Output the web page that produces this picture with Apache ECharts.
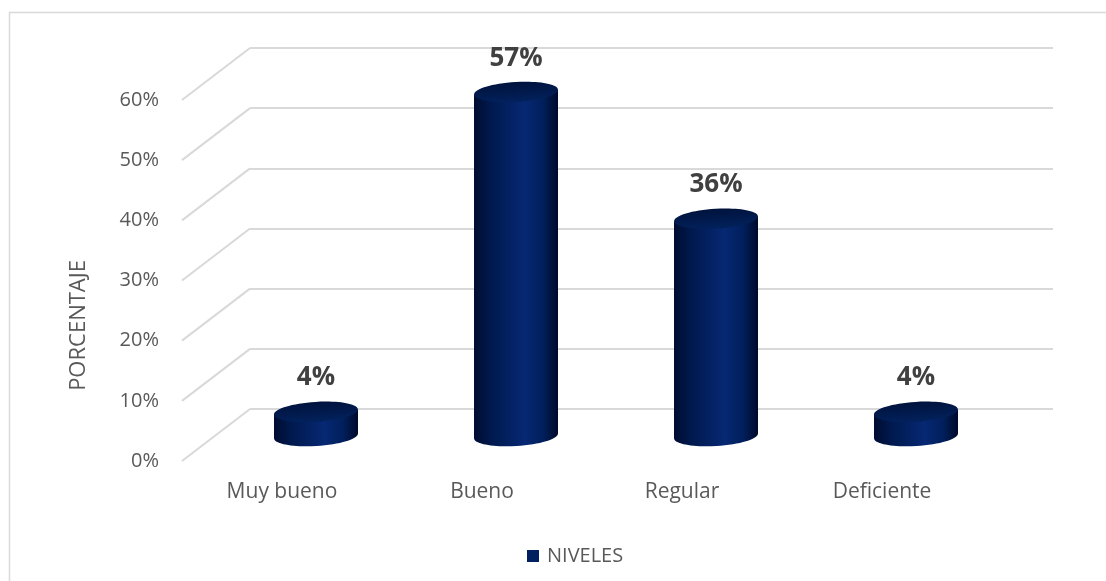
<!DOCTYPE html>
<html>
<head>
<meta charset="utf-8">
<script src="https://cdn.jsdelivr.net/npm/echarts@6/dist/echarts.min.js"></script>
<style>html,body{margin:0;padding:0;background:#fff;}#c{width:1106px;height:581px;}</style>
</head>
<body>
<div id="c"></div>
<script>
const categories = ['Muy bueno', 'Bueno', 'Regular', 'Deficiente'];
const values = [4, 57, 36, 4];
const yTicks = [0, 10, 20, 30, 40, 50, 60];
const seriesName = 'NIVELES';
const axisTitle = 'PORCENTAJE';

const BACK = {left: 250, top: 48, width: 803, height: 361};
const FRONT = {left: 182, top: 100, width: 800, height: 361};
const MID = {left: 216, top: 74, width: 800, height: 362};
const FONT = '"Open Sans", "Noto Sans", sans-serif';
const GRID_COLOR = '#d9d9d9';

const chart = echarts.init(document.getElementById('c'), null, {renderer: 'canvas'});

function bodyGradient() {
  return new echarts.graphic.LinearGradient(0, 0, 1, 0, [
    {offset: 0, color: '#000c30'},
    {offset: 0.18, color: '#00184b'},
    {offset: 0.6, color: '#062873'},
    {offset: 0.82, color: '#011f5c'},
    {offset: 1, color: '#000a2a'}
  ]);
}
function topGradient() {
  return new echarts.graphic.LinearGradient(0, 0, 0, 1, [
    {offset: 0, color: '#00133d'},
    {offset: 1, color: '#02215c'}
  ]);
}

const option = {
  backgroundColor: '#ffffff',
  animation: false,
  graphic: [{
    type: 'rect', silent: true, z: -10,
    shape: {x: 9.5, y: 12.5, width: 1200, height: 700},
    style: {fill: 'none', stroke: GRID_COLOR, lineWidth: 1.5}
  }],
  legend: {
    data: [seriesName],
    left: 522, top: 541,
    icon: 'rect', itemWidth: 12, itemHeight: 12,
    textStyle: {fontFamily: FONT, fontSize: 20, color: '#595959', padding: [0, 0, 0, 3]}
  },
  grid: [
    {left: BACK.left, top: BACK.top, width: BACK.width, height: BACK.height},
    {left: FRONT.left, top: FRONT.top, width: FRONT.width, height: FRONT.height},
    {left: MID.left, top: MID.top, width: MID.width, height: MID.height}
  ],
  xAxis: [
    {gridIndex: 0, type: 'category', data: categories, show: false},
    {gridIndex: 1, type: 'category', data: categories,
     axisLine: {show: false}, axisTick: {show: false}, splitLine: {show: false},
     axisLabel: {fontFamily: FONT, fontSize: 21, color: '#595959', margin: 21}},
    {gridIndex: 2, type: 'category', data: categories, show: false}
  ],
  yAxis: [
    {gridIndex: 0, type: 'value', min: 0, max: 60, interval: 10,
     axisLine: {show: false}, axisTick: {show: false}, axisLabel: {show: false},
     splitLine: {show: true, lineStyle: {color: GRID_COLOR, width: 2}}},
    {gridIndex: 1, type: 'value', min: 0, max: 60, interval: 10,
     axisLine: {show: false}, axisTick: {show: false}, splitLine: {show: false},
     axisLabel: {fontFamily: FONT, fontSize: 20, color: '#595959', margin: 23,
                 formatter: v => v + '%'},
     name: axisTitle, nameLocation: 'middle', nameGap: 92, nameRotate: 90,
     nameTextStyle: {fontFamily: FONT, fontSize: 22, color: '#595959', padding: [0, 90, 0, 0]}},
    {gridIndex: 2, type: 'value', min: 0, max: 60, interval: 10, show: false}
  ],
  series: [
    {
      type: 'custom', name: 'walls', xAxisIndex: 1, yAxisIndex: 1, silent: true, z: 1,
      data: yTicks.map(v => [0, v]),
      renderItem: function (params, api) {
        const y = api.coord([0, api.value(1)])[1];
        const x0 = params.coordSys.x;
        return {
          type: 'line',
          shape: {x1: x0, y1: y, x2: x0 + (BACK.left - FRONT.left), y2: y + (BACK.top - FRONT.top)},
          style: {stroke: GRID_COLOR, lineWidth: 2}
        };
      }
    },
    {
      type: 'custom', name: seriesName, xAxisIndex: 2, yAxisIndex: 2, z: 5,
      itemStyle: {color: '#002060'},
      data: values.map((v, i) => [i, v]),
      renderItem: function (params, api) {
        const top = api.coord([api.value(0), api.value(1)]);
        const base = api.coord([api.value(0), 0]);
        const rx = api.size([1, 0])[0] * 0.42 / 2;
        const ry = 10;
        const rot = 0.06;
        const sh = (rx * rx - ry * ry) * Math.sin(rot) * Math.cos(rot) / rx;
        const cx = top[0];
        return {
          type: 'group',
          children: [
            {type: 'ellipse', x: cx, y: base[1], rotation: rot,
             shape: {cx: 0, cy: 0, rx: rx, ry: ry}, style: {fill: bodyGradient()}},
            {type: 'polygon',
             shape: {points: [[cx - rx, top[1] + sh], [cx + rx, top[1] - sh], [cx + rx, base[1] - sh], [cx - rx, base[1] + sh]]},
             style: {fill: bodyGradient()}},
            {type: 'ellipse', x: cx, y: top[1], rotation: rot,
             shape: {cx: 0, cy: 0, rx: rx, ry: ry}, style: {fill: topGradient()}},
            {type: 'text', x: cx, y: top[1] - 34,
             style: {text: api.value(1) + '%', fontFamily: FONT, fontWeight: 'bold', fontSize: 26,
                     fill: '#404040', align: 'center', verticalAlign: 'middle'}}
          ]
        };
      }
    }
  ]
};
chart.setOption(option);
</script>
</body>
</html>
